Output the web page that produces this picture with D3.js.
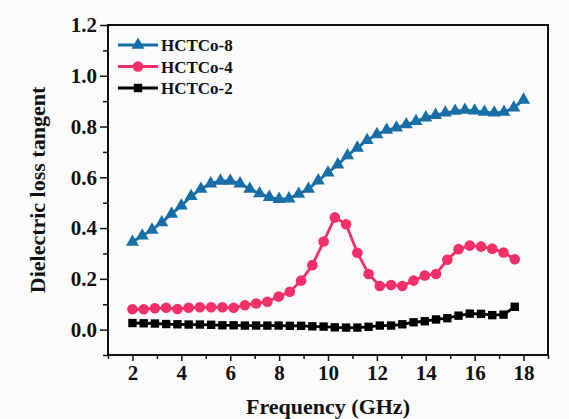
<!DOCTYPE html>
<html>
<head>
<meta charset="utf-8">
<script src="https://cdn.jsdelivr.net/npm/d3@7"></script>
<style>
  body { margin: 0; background: #fbfbfb; }
  svg { display: block; }
  text { font-family: "Liberation Serif", "Times New Roman", serif; font-weight: bold; fill: #111; }
</style>
</head>
<body>
<div id="d3"></div>
<script>
// frequency (GHz) for HCTCo-8 (0.4 GHz step)
const freq8 = [2.0, 2.4, 2.8, 3.2, 3.6, 4.0, 4.4, 4.8, 5.2, 5.6, 6.0, 6.4, 6.8, 7.2, 7.6, 8.0, 8.4, 8.8, 9.2, 9.6,
  10.0, 10.4, 10.8, 11.2, 11.6, 12.0, 12.4, 12.8, 13.2, 13.6, 14.0, 14.4, 14.8, 15.2, 15.6, 16.0, 16.4, 16.8, 17.2, 17.6, 18.0];
// frequency (GHz) for HCTCo-4 and HCTCo-2
const freq42 = [2.00, 2.46, 2.92, 3.38, 3.84, 4.30, 4.76, 5.22, 5.68, 6.14, 6.60, 7.06, 7.52, 7.98, 8.44, 8.90, 9.36, 9.82,
  10.28, 10.74, 11.20, 11.66, 12.12, 12.58, 13.04, 13.50, 13.96, 14.42, 14.88, 15.34, 15.80, 16.26, 16.72, 17.18, 17.64];

const hctco8 = [0.345, 0.370, 0.393, 0.422, 0.456, 0.488, 0.525, 0.554, 0.575, 0.586,
  0.586, 0.575, 0.554, 0.536, 0.522, 0.514, 0.516, 0.534, 0.554, 0.587,
  0.618, 0.650, 0.686, 0.716, 0.746, 0.769, 0.786, 0.795, 0.808, 0.821,
  0.835, 0.845, 0.854, 0.861, 0.865, 0.862, 0.857, 0.854, 0.857, 0.874, 0.905];
const hctco4 = [0.080, 0.080, 0.084, 0.086, 0.081, 0.086, 0.088, 0.088, 0.088, 0.086,
  0.096, 0.103, 0.110, 0.130, 0.149, 0.193, 0.254, 0.347, 0.442, 0.415,
  0.303, 0.219, 0.172, 0.176, 0.172, 0.193, 0.213, 0.219, 0.275, 0.317,
  0.331, 0.327, 0.319, 0.304, 0.277];
const hctco2 = [0.026, 0.025, 0.024, 0.022, 0.021, 0.020, 0.020, 0.019, 0.017, 0.017,
  0.016, 0.016, 0.016, 0.016, 0.015, 0.015, 0.013, 0.012, 0.009, 0.008,
  0.008, 0.011, 0.016, 0.016, 0.021, 0.029, 0.033, 0.040, 0.045, 0.055,
  0.063, 0.062, 0.057, 0.059, 0.090];

const xTicks = [2, 4, 6, 8, 10, 12, 14, 16, 18];
const yTicks = [0.0, 0.2, 0.4, 0.6, 0.8, 1.0, 1.2];

const width = 569;
const height = 419;
const margin = { top: 25, right: 21, bottom: 64, left: 108 };

const svg = d3.select("#d3").append("svg")
  .attr("width", width)
  .attr("height", height);

const x = d3.scaleLinear().domain([1, 19]).range([margin.left, width - margin.right]);
const y = d3.scaleLinear().domain([-0.1, 1.2]).range([height - margin.bottom, margin.top]);

const series = [
  { name: "HCTCo-2", xs: freq42, ys: hctco2, color: "#000000", symbol: d3.symbolSquare, size: 70 },
  { name: "HCTCo-4", xs: freq42, ys: hctco4, color: "#f22f68", symbol: d3.symbolCircle, size: 88 },
  { name: "HCTCo-8", xs: freq8, ys: hctco8, color: "#186ea6", symbol: d3.symbolTriangle, size: 74 }
];

// minor ticks first, then major ticks with labels
svg.append("g")
  .attr("transform", `translate(0, ${y.range()[0]})`)
  .call(d3.axisBottom(x).tickValues(d3.range(1, 20, 2)).tickSize(4).tickFormat(""))
  .call(g => g.select(".domain").remove());
svg.append("g")
  .attr("transform", `translate(${x.range()[0]}, 0)`)
  .call(d3.axisLeft(y).tickValues(d3.range(-0.1, 1.2, 0.2)).tickSize(5).tickFormat(""))
  .call(g => g.select(".domain").remove());

const xAxis = svg.append("g")
  .attr("transform", `translate(0, ${y.range()[0]})`)
  .call(d3.axisBottom(x).tickValues(xTicks).tickSize(6).tickPadding(4).tickFormat(d3.format("d")))
  .call(g => g.select(".domain").remove());
xAxis.selectAll("text").style("font-size", "21px");

const yAxis = svg.append("g")
  .attr("transform", `translate(${x.range()[0]}, 0)`)
  .call(d3.axisLeft(y).tickValues(yTicks).tickSize(8).tickPadding(3).tickFormat(d3.format(".1f")))
  .call(g => g.select(".domain").remove());
yAxis.selectAll("text").style("font-size", "21px");

svg.selectAll(".tick line").attr("stroke", "#111").attr("stroke-width", 1.5);

// frame
svg.append("rect")
  .attr("x", x.range()[0])
  .attr("y", y.range()[1])
  .attr("width", x.range()[1] - x.range()[0])
  .attr("height", y.range()[0] - y.range()[1])
  .attr("fill", "none")
  .attr("stroke", "#111")
  .attr("stroke-width", 2);

const line = d3.line().x(d => x(d[0])).y(d => y(d[1]));

series.forEach(s => {
  const pts = s.xs.map((f, i) => [f, s.ys[i]]);
  svg.append("path")
    .datum(pts)
    .attr("d", line)
    .attr("fill", "none")
    .attr("stroke", s.color)
    .attr("stroke-width", 2.8);
  svg.append("g").selectAll("path")
    .data(pts)
    .join("path")
    .attr("transform", d => `translate(${x(d[0])}, ${y(d[1])})`)
    .attr("d", d3.symbol().type(s.symbol).size(s.size))
    .attr("fill", s.color);
});

// legend
const legendItems = series.slice().reverse();
const legend = svg.append("g").attr("transform", "translate(118, 45)");
legendItems.forEach((s, i) => {
  const g = legend.append("g").attr("transform", `translate(0, ${i * 21.5})`);
  g.append("line").attr("x1", 0).attr("x2", 40).attr("y1", 0).attr("y2", 0)
    .attr("stroke", s.color).attr("stroke-width", 2.8);
  g.append("path").attr("transform", "translate(20, 0)")
    .attr("d", d3.symbol().type(s.symbol).size(s.size)).attr("fill", s.color);
  g.append("text").attr("x", 43).attr("y", 6).style("font-size", "17px").text(s.name);
});

// axis titles
svg.append("text")
  .attr("x", (x.range()[0] + x.range()[1]) / 2)
  .attr("y", 414)
  .attr("text-anchor", "middle")
  .style("font-size", "22px")
  .text("Frequency (GHz)");

svg.append("text")
  .attr("transform", `translate(45, ${(y.range()[0] + y.range()[1]) / 2}) rotate(-90)`)
  .attr("text-anchor", "middle")
  .style("font-size", "22px")
  .text("Dielectric loss tangent");
</script>
</body>
</html>
